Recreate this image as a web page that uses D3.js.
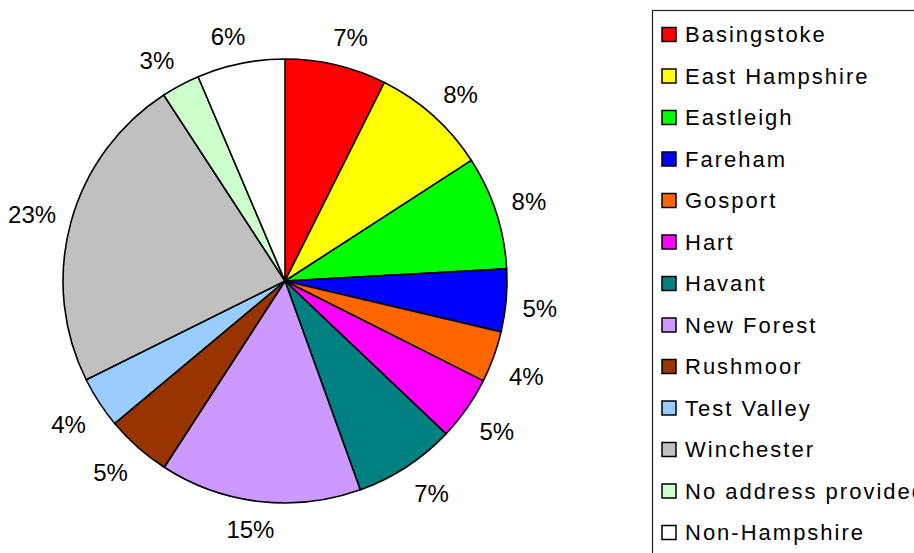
<!DOCTYPE html>
<html lang="en">
<head>
    <meta charset="UTF-8">
    <title>Pie</title>
    <script src="https://cdn.jsdelivr.net/npm/d3@7"></script>
    <style>
        body{ margin: 0; background: #fff; }
        svg{ display: block; }
        text{ font-family: "Liberation Sans", Arial, sans-serif; }
    </style>
</head>
<body>
    <div class="container"></div>
    <script>
        // districts, clockwise from 12 o'clock
        const districts = ["Basingstoke", "East Hampshire", "Eastleigh", "Fareham", "Gosport", "Hart",
            "Havant", "New Forest", "Rushmoor", "Test Valley", "Winchester", "No address provided", "Non-Hampshire"]
        const shares = [7.39, 8.48, 8.27, 4.55, 3.75, 4.66, 7.41, 14.67, 4.76, 3.75, 23.15, 2.8, 6.4]
        const colours = ["#ff0000", "#ffff00", "#00ff00", "#0000ff", "#ff6600", "#ff00ff",
            "#008080", "#cc99ff", "#993300", "#99ccff", "#c0c0c0", "#ccffcc", "#ffffff"]

        const width = 914, height = 553
        const cx = 285, cy = 281, r = 222

        const data = districts.map((d, i) => ({name: d, value: shares[i], colour: colours[i]}))
        const total = d3.sum(shares)

        const svg = d3.select(".container").append("svg")
            .attr("width", width).attr("height", height)

        const pie = d3.pie().value(d => d.value).sort(null)
        const arc = d3.arc().innerRadius(0).outerRadius(r)
        const arcs = pie(data)

        const g = svg.append("g").attr("transform", `translate(${cx},${cy})`)

        g.selectAll("path").data(arcs).join("path")
            .attr("d", arc)
            .attr("fill", d => d.data.colour)
            .attr("stroke", "#000")
            .attr("stroke-width", 1.6)
            .attr("stroke-linejoin", "round")

        // percentage labels: box corner sits on a ring just outside the rim
        const clamp = v => Math.max(-1, Math.min(1, v))
        const labels = g.selectAll("text.pct").data(arcs).join("text")
            .attr("class", "pct")
            .attr("font-size", 24)
            .attr("text-anchor", "middle")
            .attr("fill", "#000")
            .text(d => Math.round(d.data.value / total * 100) + "%")

        labels.each(function(d){
            const w = this.getComputedTextLength(), h = 18, R = 241
            const a = (d.startAngle + d.endAngle) / 2
            const s = Math.sin(a), c = Math.cos(a)
            const x = R * s + clamp(3 * s) * w / 2 * 0.85
            const y = -R * c + clamp(-3 * c) * h / 2 + 4 * s * s
            d3.select(this).attr("x", x).attr("y", y + 8.6)
        })

        // legend
        const lx = 652.5, ly = 10.5, rowH = 41.5
        svg.append("rect")
            .attr("x", lx).attr("y", ly)
            .attr("width", 300).attr("height", 600)
            .attr("fill", "#fff")
            .attr("stroke", "#222")
            .attr("stroke-width", 1.2)

        const rows = svg.selectAll("g.row").data(data).join("g")
            .attr("class", "row")
            .attr("transform", (d, i) => `translate(${lx}, ${34.5 + i * rowH})`)

        rows.append("rect")
            .attr("x", 9.5).attr("y", -7)
            .attr("width", 14).attr("height", 14)
            .attr("fill", d => d.colour)
            .attr("stroke", "#000")
            .attr("stroke-width", 1.5)

        rows.append("text")
            .attr("x", 32.5).attr("y", 7.5)
            .attr("font-size", 22)
            .attr("letter-spacing", "2px")
            .attr("fill", "#000")
            .text(d => d.name)
    </script>
</body>
</html>
